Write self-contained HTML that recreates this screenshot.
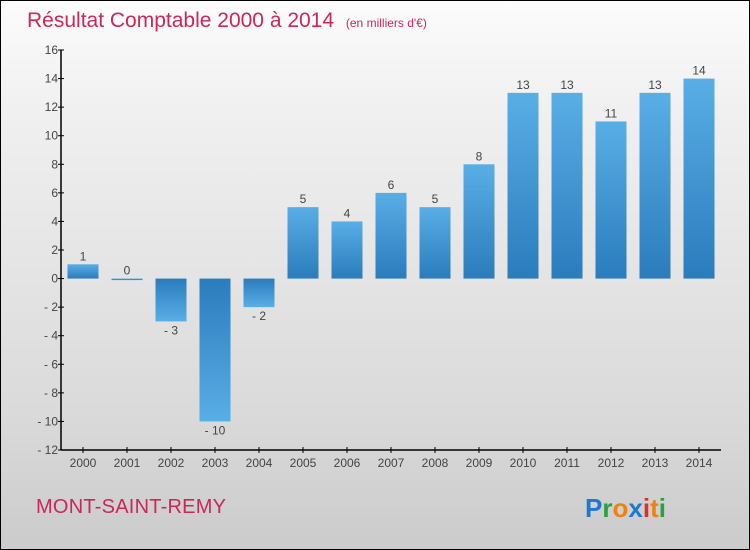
<!DOCTYPE html>
<html><head><meta charset="utf-8"><style>
html,body{margin:0;padding:0}
body{width:750px;height:550px;overflow:hidden;font-family:"Liberation Sans",sans-serif}
#wrap{position:relative;width:748px;height:548px;border:1px solid #000;background:linear-gradient(#fcfcfc,#f0f0f0 20%,#dadada 75%,#cbcbcb)}
</style></head><body>
<div id="wrap">
<svg width="748" height="548" style="position:absolute;left:0;top:0">
<defs><linearGradient id="bg" x1="0" y1="0" x2="0" y2="1"><stop offset="0" stop-color="#5aaee6"/><stop offset="1" stop-color="#2a7cbc"/></linearGradient>
<linearGradient id="bgn" x1="0" y1="0" x2="0" y2="1"><stop offset="0" stop-color="#2a7cbc"/><stop offset="1" stop-color="#5aaee6"/></linearGradient></defs>
<text x="26" y="26" font-size="21" fill="#c8285a">Résultat Comptable 2000 à 2014 <tspan font-size="12" dx="6">(en milliers d'€)</tspan></text>
<g id="plot"></g>
<text x="35" y="512" font-size="20" fill="#c8285a" textLength="190">MONT-SAINT-REMY</text>
<g font-size="26" font-weight="bold" font-family="'Liberation Sans',sans-serif">
<text x="584" y="516"><tspan fill="#1c78d0">P</tspan><tspan fill="#2ca040">r</tspan><tspan fill="#f08010">o</tspan><tspan fill="#1c78d0">x</tspan><tspan fill="#e03020">i</tspan><tspan fill="#f08010">t</tspan><tspan fill="#2ca040">i</tspan></text></g>
</svg>
</div>
<script>
const categories=["2000","2001","2002","2003","2004","2005","2006","2007","2008","2009","2010","2011","2012","2013","2014"];
const values=[1,0,-3,-10,-2,5,4,6,5,8,13,13,11,13,14];
const yTicks=[16,14,12,10,8,6,4,2,0,-2,-4,-6,-8,-10,-12];
const NS="http://www.w3.org/2000/svg";
const g=document.getElementById('plot');
const x0=60,band=44,yTop=49,yBot=449,vMax=16,vMin=-12;
function y(v){return yTop+(vMax-v)*(yBot-yTop)/(vMax-vMin);}
function xc(i){return x0+band*i+band/2;}
function mk(t,a,txt){const e=document.createElementNS(NS,t);for(const k in a)e.setAttribute(k,a[k]);if(txt!==undefined)e.textContent=txt;g.appendChild(e);return e;}
values.forEach((v,i)=>{
 const top=y(Math.max(v,0)),bot=y(Math.min(v,0));
 const r=mk('rect',{x:xc(i)-15.5,y:top,width:31,height:Math.max(bot-top,1.5),fill:v<0?'url(#bgn)':'url(#bg)'});
 
 
 const ly=v>=0?top-4:bot+13;
 const t=mk('text',{x:xc(i),y:ly,'font-size':12,fill:'#444','text-anchor':'middle'},v<0?'- '+(-v):String(v));
 
 
 const tk=mk('line',{x1:xc(i),x2:xc(i),y1:yBot-3,y2:yBot+3,stroke:'#000'});
 
 
 const xl=mk('text',{x:xc(i),y:yBot+17,'font-size':12,fill:'#444','text-anchor':'middle'},categories[i]);
 
 
});
yTicks.forEach(v=>{
 const tk=mk('line',{x1:x0-3,x2:x0+3,y1:y(v),y2:y(v),stroke:'#000'});
 
 
 const l=mk('text',{x:x0-3,y:y(v)+4,'font-size':12,fill:'#444','text-anchor':'end'},v<0?'- '+(-v):String(v));
 
 
});
const ya=mk('line',{x1:x0,x2:x0,y1:yTop,y2:yBot,stroke:'#000','stroke-width':1.5});


const xa=mk('line',{x1:x0,x2:x0+band*categories.length,y1:yBot,y2:yBot,stroke:'#000','stroke-width':1.5});


</script>
</body></html>
